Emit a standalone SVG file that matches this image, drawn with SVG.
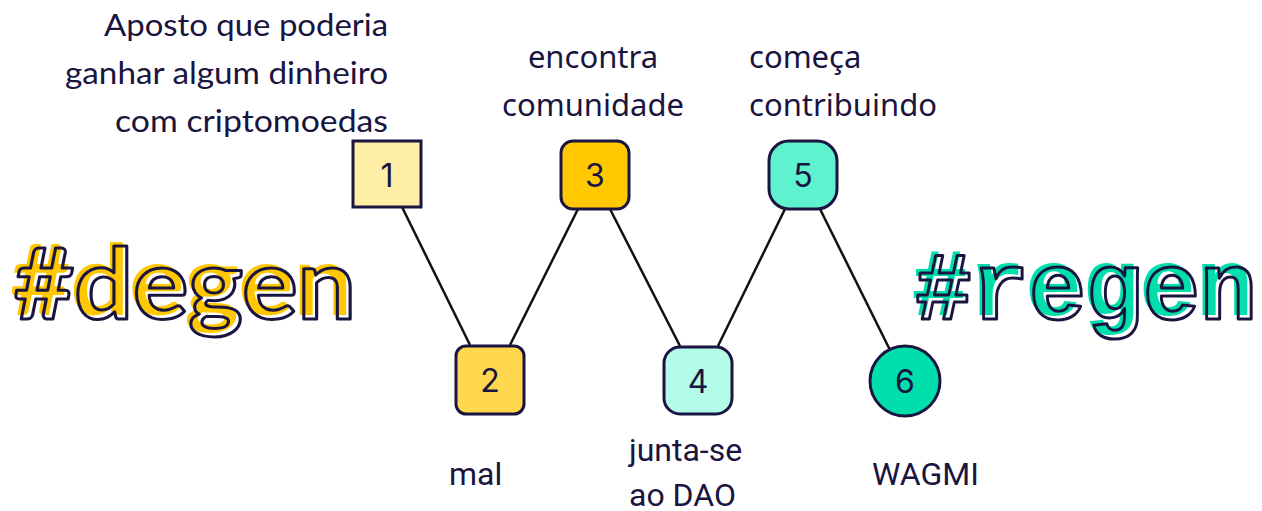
<svg xmlns="http://www.w3.org/2000/svg" width="1262" height="511" viewBox="0 0 1262 511">
<defs>
<style>
.lbl{font-family:"Lato","Liberation Sans",sans-serif;font-size:31px;fill:#1a1440}
.lbl2{font-family:"Noto Sans","Liberation Sans",sans-serif;font-size:31px;fill:#1a1440}
.lbl3{font-family:"Roboto","Liberation Sans",sans-serif;font-size:32px;fill:#1a1440}
.num{font-family:"Inter","Noto Sans","Liberation Sans",sans-serif;font-size:32px;fill:#1a1440;text-anchor:middle}
.box{stroke:#1a1440;stroke-width:3}
.conn{stroke:#111;stroke-width:2.5;fill:none}
.big1{font-family:"Lato","Liberation Sans",sans-serif;font-weight:700;font-size:98px}
.big2{font-family:"Liberation Mono","DejaVu Sans Mono",monospace;font-weight:bold;font-size:96px}
.outl{fill:none;stroke:#1a1440;stroke-width:3;stroke-linejoin:round}
</style>
</defs>
<rect width="1262" height="511" fill="#ffffff"/>
<g id="connectors">
<line class="conn" x1="402" y1="207" x2="470" y2="345"/>
<line class="conn" x1="510" y1="345" x2="578" y2="209"/>
<line class="conn" x1="610" y1="209" x2="680" y2="346"/>
<line class="conn" x1="718" y1="346" x2="785" y2="209"/>
<line class="conn" x1="820" y1="209" x2="890" y2="350"/>
</g>
<g id="degen">
<text class="big1" x="10" y="315" fill="#ffc800" textLength="342" lengthAdjust="spacingAndGlyphs">#degen</text>
<text class="big1 outl" x="14" y="319" textLength="342" lengthAdjust="spacingAndGlyphs">#degen</text>
</g>
<g id="regen">
<text class="big2" x="911" y="315" fill="#00dfab" textLength="342" lengthAdjust="spacingAndGlyphs">#regen</text>
<text class="big2 outl" x="915" y="319" textLength="342" lengthAdjust="spacingAndGlyphs">#regen</text>
</g>
<g id="node1">
<rect class="box" x="353" y="141" width="68" height="66" fill="#ffeea6"/>
<text class="num" x="387" y="187">1</text>
<text class="lbl" x="388" y="36" text-anchor="end" textLength="284" lengthAdjust="spacingAndGlyphs">Aposto que poderia</text>
<text class="lbl" x="388" y="84" text-anchor="end" textLength="323" lengthAdjust="spacingAndGlyphs">ganhar algum dinheiro</text>
<text class="lbl" x="388" y="132" text-anchor="end" textLength="273" lengthAdjust="spacingAndGlyphs">com criptomoedas</text>
</g>
<g id="node2">
<rect class="box" x="456" y="346" width="68" height="68" rx="10" fill="#ffd84d"/>
<text class="num" x="490" y="392">2</text>
<text class="lbl3" x="449" y="485">mal</text>
</g>
<g id="node3">
<rect class="box" x="561" y="141" width="68" height="68" rx="12" fill="#ffc800"/>
<text class="num" x="595" y="187">3</text>
<text class="lbl2" x="593" y="68" text-anchor="middle">encontra</text>
<text class="lbl2" x="593" y="116" text-anchor="middle">comunidade</text>
</g>
<g id="node4">
<rect class="box" x="664" y="347" width="68" height="67" rx="16" fill="#b3fce9"/>
<text class="num" x="698" y="393">4</text>
<text class="lbl3" x="629" y="461">junta-se</text>
<text class="lbl3" x="629" y="506">ao DAO</text>
</g>
<g id="node5">
<rect class="box" x="769" y="141" width="68" height="68" rx="20" fill="#5ef2ce"/>
<text class="num" x="803" y="187">5</text>
<text class="lbl2" x="749" y="68">começa</text>
<text class="lbl2" x="749" y="116">contribuindo</text>
</g>
<g id="node6">
<circle class="box" cx="905" cy="381" r="35" fill="#00dfab"/>
<text class="num" x="905" y="393">6</text>
<text class="lbl3" x="872" y="485">WAGMI</text>
</g>
</svg>
